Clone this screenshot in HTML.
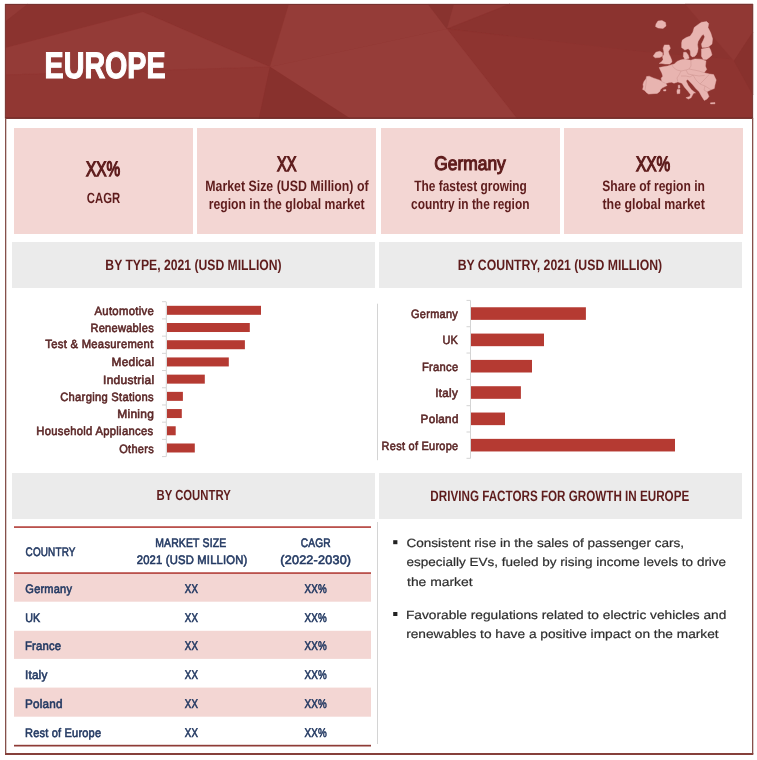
<!DOCTYPE html>
<html><head><meta charset="utf-8"><title>Europe</title>
<style>
html,body{margin:0;padding:0;background:#fff;width:757px;height:760px;overflow:hidden}
svg{display:block}
text{font-family:"Liberation Sans",sans-serif;text-rendering:geometricPrecision}
</style></head><body>
<svg width="757" height="760" viewBox="0 0 757 760">
<rect x="0" y="0" width="757" height="760" fill="#ffffff"/>
<rect x="5" y="4" width="748" height="114.5" fill="#8e3330"/>
<polygon points="5,4 28,4 5,22" fill="#933a36" stroke="#933a36" stroke-width="0.3"/>
<polygon points="28,4 289,4 270,67 143,12 5,48 5,22" fill="#8b332f" stroke="#8b332f" stroke-width="0.3"/>
<polygon points="5,48 143,12 270,67 5,75" fill="#943b37" stroke="#943b37" stroke-width="0.3"/>
<polygon points="5,75 270,67 259,118.5 5,118.5" fill="#913733" stroke="#913733" stroke-width="0.3"/>
<polygon points="289,4 428,4 447,29 270,67" fill="#953c38" stroke="#953c38" stroke-width="0.3"/>
<polygon points="428,4 454,4 447,29" fill="#89332f" stroke="#89332f" stroke-width="0.3"/>
<polygon points="454,4 510,4 447,29" fill="#933a36" stroke="#933a36" stroke-width="0.3"/>
<polygon points="510,4 753,4 753,61 640,51.5 447,29" fill="#8b332f" stroke="#8b332f" stroke-width="0.3"/>
<polygon points="447,29 640,51.5 753,61 753,118.5 517,118.5" fill="#8e3430" stroke="#8e3430" stroke-width="0.3"/>
<polygon points="270,67 447,29 517,118.5 350,118.5" fill="#963d39" stroke="#963d39" stroke-width="0.3"/>
<polygon points="270,67 259,118.5 350,118.5" fill="#88312d" stroke="#88312d" stroke-width="0.3"/>
<polygon points="685,4 753,4 753,32 734,61" fill="#913834" stroke="#913834" stroke-width="0.3"/>
<polygon points="734,61 753,32 753,95" fill="#88312d" stroke="#88312d" stroke-width="0.3"/>
<rect x="5" y="4" width="748" height="1" fill="#763230"/>
<rect x="5" y="4" width="1" height="114" fill="#7d3a36"/>
<rect x="752" y="4" width="1" height="114" fill="#7d3a36"/>
<rect x="5" y="117.5" width="748" height="1.2" fill="#6a2a27"/>
<rect x="5" y="118" width="1.3" height="636" fill="#85504b"/>
<rect x="752" y="118" width="1.3" height="636" fill="#85504b"/>
<rect x="5" y="753" width="748.3" height="2" fill="#86403b"/>
<rect x="14" y="128" width="179" height="106" fill="#f3d6d3"/>
<rect x="197" y="128" width="179" height="106" fill="#f3d6d3"/>
<rect x="381" y="128" width="179" height="106" fill="#f3d6d3"/>
<rect x="564" y="128" width="179" height="106" fill="#f3d6d3"/>
<rect x="12" y="242" width="363" height="46" fill="#ebebeb"/>
<rect x="379" y="242" width="363" height="46" fill="#ebebeb"/>
<rect x="12" y="473" width="363" height="46" fill="#ebebeb"/>
<rect x="379" y="473" width="363" height="46" fill="#ebebeb"/>
<rect x="165.8" y="301.7" width="1" height="155" fill="#d4d4d4"/>
<rect x="162" y="301.2" width="4" height="1" fill="#d4d4d4"/>
<rect x="162" y="318.40999999999997" width="4" height="1" fill="#d4d4d4"/>
<rect x="162" y="335.62" width="4" height="1" fill="#d4d4d4"/>
<rect x="162" y="352.83" width="4" height="1" fill="#d4d4d4"/>
<rect x="162" y="370.03999999999996" width="4" height="1" fill="#d4d4d4"/>
<rect x="162" y="387.25" width="4" height="1" fill="#d4d4d4"/>
<rect x="162" y="404.46" width="4" height="1" fill="#d4d4d4"/>
<rect x="162" y="421.66999999999996" width="4" height="1" fill="#d4d4d4"/>
<rect x="162" y="438.88" width="4" height="1" fill="#d4d4d4"/>
<rect x="162" y="456.09000000000003" width="4" height="1" fill="#d4d4d4"/>
<rect x="167" y="305.81" width="94.0" height="9" fill="#b53a32"/>
<rect x="167" y="323.01" width="82.8" height="9" fill="#b53a32"/>
<rect x="167" y="340.23" width="77.9" height="9" fill="#b53a32"/>
<rect x="167" y="357.44" width="61.8" height="9" fill="#b53a32"/>
<rect x="167" y="374.64" width="37.8" height="9" fill="#b53a32"/>
<rect x="167" y="391.86" width="15.9" height="9" fill="#b53a32"/>
<rect x="167" y="409.06" width="14.8" height="9" fill="#b53a32"/>
<rect x="167" y="426.27" width="8.7" height="9" fill="#b53a32"/>
<rect x="167" y="443.49" width="27.8" height="9" fill="#b53a32"/>
<rect x="470" y="300.4" width="1" height="158" fill="#d4d4d4"/>
<rect x="466.5" y="299.9" width="4" height="1" fill="#d4d4d4"/>
<rect x="466.5" y="326.21999999999997" width="4" height="1" fill="#d4d4d4"/>
<rect x="466.5" y="352.53999999999996" width="4" height="1" fill="#d4d4d4"/>
<rect x="466.5" y="378.86" width="4" height="1" fill="#d4d4d4"/>
<rect x="466.5" y="405.17999999999995" width="4" height="1" fill="#d4d4d4"/>
<rect x="466.5" y="431.5" width="4" height="1" fill="#d4d4d4"/>
<rect x="466.5" y="457.82" width="4" height="1" fill="#d4d4d4"/>
<rect x="471" y="307.26" width="114.9" height="12.6" fill="#b53a32"/>
<rect x="471" y="333.58" width="73.0" height="12.6" fill="#b53a32"/>
<rect x="471" y="359.9" width="61.0" height="12.6" fill="#b53a32"/>
<rect x="471" y="386.22" width="49.9" height="12.6" fill="#b53a32"/>
<rect x="471" y="412.54" width="34.0" height="12.6" fill="#b53a32"/>
<rect x="471" y="438.86" width="204.0" height="12.6" fill="#b53a32"/>
<rect x="377" y="303.7" width="1" height="156.5" fill="#d4d4d4"/>
<rect x="377" y="522" width="1" height="222" fill="#d4d4d4"/>
<rect x="14" y="574" width="357" height="27.700000000000045" fill="#f3d6d3"/>
<rect x="14" y="630.8" width="357" height="28.100000000000023" fill="#f3d6d3"/>
<rect x="14" y="687.6" width="357" height="29.100000000000023" fill="#f3d6d3"/>
<rect x="14" y="526.2" width="357" height="1.8" fill="#ba514c"/>
<rect x="14" y="572.2" width="357" height="1.8" fill="#ba514c"/>
<rect x="14" y="744.8" width="357" height="1.7" fill="#8e3b36"/>
<rect x="393.2" y="540.2" width="4.2" height="4" fill="#222"/>
<rect x="393.2" y="612" width="4.2" height="4" fill="#222"/>
<polygon points="656.0,24.0 658.0,21.0 662.0,20.5 665.5,22.5 666.0,26.0 663.0,28.4 658.0,28.0 655.5,26.5" fill="#e8b4b0" stroke="#e8b4b0" stroke-width="0.4" stroke-linejoin="round"/>
<polygon points="681.6,47.6 681.6,42.7 682.3,40.1 686.2,37.5 690.2,36.1 692.8,32.2 694.2,27.5 697.5,24.9 701.4,22.3 706.7,21.6 708.7,23.6 708.0,27.5 710.7,32.8 712.6,38.8 712.0,44.1 708.7,46.7 705.4,47.4 702.1,47.4 701.4,44.1 703.4,40.1 704.7,36.8 703.4,34.2 701.4,36.1 698.1,41.4 697.5,44.7 698.1,48.7 697.5,52.0 696.1,55.0 694.5,56.5 692.2,56.9 690.6,55.2 690.2,50.7 688.2,48.7 684.9,50.0" fill="#e8b4b0" stroke="#e8b4b0" stroke-width="0.4" stroke-linejoin="round"/>
<polygon points="701.4,49.0 705.4,48.3 709.3,47.6 710.7,50.3 712.0,54.9 710.0,56.9 706.7,59.5 703.4,59.5 701.4,56.2 701.4,52.3" fill="#e8b4b0" stroke="#e8b4b0" stroke-width="0.4" stroke-linejoin="round"/>
<polygon points="683.6,52.3 686.2,52.3 688.2,54.9 689.2,58.2 684.9,59.6 683.3,56.2" fill="#e8b4b0" stroke="#e8b4b0" stroke-width="0.4" stroke-linejoin="round"/>
<polygon points="664.4,44.9 669.1,44.9 670.4,48.2 668.4,51.5 669.1,54.2 670.4,56.8 671.7,60.1 672.0,62.1 669.7,64.1 665.1,64.1 661.8,63.4 659.2,63.4 661.8,61.4 663.1,59.4 662.5,56.8 663.8,54.8 663.8,51.5 663.1,48.2" fill="#e8b4b0" stroke="#e8b4b0" stroke-width="0.4" stroke-linejoin="round"/>
<polygon points="653.2,56.1 655.9,52.2 659.8,51.2 662.5,52.8 662.5,56.1 659.8,57.5 655.2,57.8" fill="#e8b4b0" stroke="#e8b4b0" stroke-width="0.4" stroke-linejoin="round"/>
<polygon points="659.2,67.6 663.1,66.7 667.7,66.0 671.7,64.7 674.3,64.1 677.0,61.4 680.3,60.1 682.9,59.4 684.9,59.2 690.9,60.2 694.8,58.9 701.4,59.2 706.0,60.9 705.4,66.1 706.7,69.4 704.1,72.7 709.6,74.0 713.6,74.6 716.2,79.9 714.9,85.2 714.3,88.5 711.0,89.8 707.0,91.8 709.0,96.4 707.0,99.1 704.3,100.4 701.7,96.4 699.1,91.8 695.8,88.5 692.3,84.3 687.8,79.6 686.0,80.8 688.3,85.6 691.5,89.7 695.6,92.9 693.8,93.1 692.5,95.1 691.1,97.7 688.5,99.1 685.9,97.7 689.8,96.4 690.5,94.4 687.8,91.1 684.5,87.2 681.9,83.2 677.9,81.9 674.0,83.2 671.7,82.2 669.1,82.5 665.8,83.5 667.1,85.5 662.5,87.8 660.5,89.4 659.8,91.4 657.2,93.4 653.2,93.7 648.6,94.1 646.6,92.7 644.6,90.4 642.6,89.4 643.3,86.8 643.0,84.2 644.0,81.5 645.9,78.9 646.6,76.6 649.2,76.2 653.2,77.9 659.8,80.2 661.8,81.5 661.1,78.2 662.8,76.2 661.8,72.9 659.8,69.0" fill="#e8b4b0" stroke="#e8b4b0" stroke-width="0.4" stroke-linejoin="round"/>
<polygon points="678.2,85.2 679.8,85.2 679.9,88.0 678.3,88.2" fill="#e8b4b0" stroke="#e8b4b0" stroke-width="0.4" stroke-linejoin="round"/>
<polygon points="677.5,89.2 680.0,89.4 679.8,93.5 677.2,93.8 676.9,91.0" fill="#e8b4b0" stroke="#e8b4b0" stroke-width="0.4" stroke-linejoin="round"/>
<polygon points="663.5,89.8 666.0,89.6 665.8,91.0 663.6,91.0" fill="#e8b4b0" stroke="#e8b4b0" stroke-width="0.4" stroke-linejoin="round"/>
<polygon points="710.5,102.8 715.0,102.6 715.0,103.8 710.6,103.9" fill="#e8b4b0" stroke="#e8b4b0" stroke-width="0.4" stroke-linejoin="round"/>
<polyline points="671.7,64.7 674.0,68.0 677.0,70.0 681.0,71.0" fill="none" stroke="#c98f8b" stroke-width="0.45"/>
<polyline points="690.9,60.2 691.0,66.0 689.0,69.0 686.0,70.0 681.0,71.0 679.0,75.0 677.0,78.0 677.9,81.9" fill="none" stroke="#c98f8b" stroke-width="0.45"/>
<polyline points="689.0,69.0 694.0,70.0 699.0,71.0 704.1,72.7" fill="none" stroke="#c98f8b" stroke-width="0.45"/>
<polyline points="686.0,70.0 688.0,74.0 693.0,75.0 699.0,76.0 704.7,75.4" fill="none" stroke="#c98f8b" stroke-width="0.45"/>
<polyline points="693.0,75.0 696.0,80.0 700.0,84.0 705.0,86.0 711.0,89.8" fill="none" stroke="#c98f8b" stroke-width="0.45"/>
<polyline points="681.0,76.0 686.0,76.0 690.0,77.0 693.0,75.0" fill="none" stroke="#c98f8b" stroke-width="0.45"/>
<polyline points="700.0,84.0 704.0,80.0 709.6,74.0" fill="none" stroke="#c98f8b" stroke-width="0.45"/>
<polyline points="705.0,86.0 704.0,90.0 707.0,91.8" fill="none" stroke="#c98f8b" stroke-width="0.45"/>
<polyline points="661.8,81.5 665.8,83.5" fill="none" stroke="#c98f8b" stroke-width="0.45"/>
<polyline points="646.6,76.6 646.0,84.0 645.0,90.0" fill="none" stroke="#c98f8b" stroke-width="0.45"/>
<g style="will-change:transform">
<text transform="translate(44.57,77.90) scale(0.7745,1)" font-size="37" font-weight="bold" stroke="#ffffff" stroke-width="1.2" fill="#ffffff">EUROPE</text>
<text transform="translate(86.04,176.10) scale(0.7335,1)" font-size="21" stroke="#5e1c1c" stroke-width="1.3" fill="#5e1c1c">XX%</text>
<text transform="translate(86.85,203.00) scale(0.7658,1)" font-size="14.8" font-weight="bold" fill="#5e1c1c">CAGR</text>
<text transform="translate(277.12,170.80) scale(0.6954,1)" font-size="21" stroke="#5e1c1c" stroke-width="1.3" fill="#5e1c1c">XX</text>
<text transform="translate(205.23,191.10) scale(0.8235,1)" font-size="15" font-weight="bold" fill="#5e1c1c">Market Size (USD Million) of</text>
<text transform="translate(208.64,209.00) scale(0.8139,1)" font-size="15" font-weight="bold" fill="#5e1c1c">region in the global market</text>
<text transform="translate(434.17,170.40) scale(0.8933,1)" font-size="19.5" stroke="#5e1c1c" stroke-width="1.1" fill="#5e1c1c">Germany</text>
<text transform="translate(414.30,191.00) scale(0.7938,1)" font-size="15" font-weight="bold" fill="#5e1c1c">The fastest growing</text>
<text transform="translate(411.03,209.00) scale(0.7940,1)" font-size="15" font-weight="bold" fill="#5e1c1c">country in the region</text>
<text transform="translate(636.04,171.00) scale(0.7335,1)" font-size="21" stroke="#5e1c1c" stroke-width="1.3" fill="#5e1c1c">XX%</text>
<text transform="translate(602.31,191.00) scale(0.8044,1)" font-size="15" font-weight="bold" fill="#5e1c1c">Share of region in</text>
<text transform="translate(602.50,209.00) scale(0.8242,1)" font-size="15" font-weight="bold" fill="#5e1c1c">the global market</text>
<text transform="translate(105.34,270.20) scale(0.8114,1)" font-size="15" font-weight="bold" fill="#5e1c1c">BY TYPE, 2021 (USD MILLION)</text>
<text transform="translate(457.63,270.40) scale(0.8182,1)" font-size="15" font-weight="bold" fill="#5e1c1c">BY COUNTRY, 2021 (USD MILLION)</text>
<text transform="translate(156.49,500.30) scale(0.7754,1)" font-size="14.6" font-weight="bold" fill="#5e1c1c">BY COUNTRY</text>
<text transform="translate(430.37,500.60) scale(0.7771,1)" font-size="15" font-weight="bold" fill="#5e1c1c">DRIVING FACTORS FOR GROWTH IN EUROPE</text>
<text transform="translate(94.48,314.70) scale(0.9452,1)" font-size="12" stroke="#5c2828" stroke-width="0.6" letter-spacing="0.3" fill="#5c2828">Automotive</text>
<text transform="translate(90.41,331.60) scale(0.9202,1)" font-size="12" stroke="#5c2828" stroke-width="0.6" letter-spacing="0.3" fill="#5c2828">Renewables</text>
<text transform="translate(45.31,348.40) scale(0.9377,1)" font-size="12" stroke="#5c2828" stroke-width="0.6" letter-spacing="0.3" fill="#5c2828">Test &amp; Measurement</text>
<text transform="translate(111.47,366.30) scale(0.9876,1)" font-size="12" stroke="#5c2828" stroke-width="0.6" letter-spacing="0.3" fill="#5c2828">Medical</text>
<text transform="translate(103.07,383.60) scale(0.9928,1)" font-size="12" stroke="#5c2828" stroke-width="0.6" letter-spacing="0.3" fill="#5c2828">Industrial</text>
<text transform="translate(60.26,400.60) scale(0.9324,1)" font-size="12" stroke="#5c2828" stroke-width="0.6" letter-spacing="0.3" fill="#5c2828">Charging Stations</text>
<text transform="translate(117.16,417.90) scale(0.9989,1)" font-size="12" stroke="#5c2828" stroke-width="0.6" letter-spacing="0.3" fill="#5c2828">Mining</text>
<text transform="translate(36.30,435.40) scale(0.9381,1)" font-size="12" stroke="#5c2828" stroke-width="0.6" letter-spacing="0.3" fill="#5c2828">Household Appliances</text>
<text transform="translate(119.26,452.60) scale(0.9173,1)" font-size="12" stroke="#5c2828" stroke-width="0.6" letter-spacing="0.3" fill="#5c2828">Others</text>
<text transform="translate(411.06,317.90) scale(0.9124,1)" font-size="12" stroke="#5c2828" stroke-width="0.6" letter-spacing="0.3" fill="#5c2828">Germany</text>
<text transform="translate(442.39,343.80) scale(0.9107,1)" font-size="12" stroke="#5c2828" stroke-width="0.6" letter-spacing="0.3" fill="#5c2828">UK</text>
<text transform="translate(422.01,370.50) scale(0.9310,1)" font-size="12" stroke="#5c2828" stroke-width="0.6" letter-spacing="0.3" fill="#5c2828">France</text>
<text transform="translate(435.28,397.30) scale(0.9663,1)" font-size="12" stroke="#5c2828" stroke-width="0.6" letter-spacing="0.3" fill="#5c2828">Italy</text>
<text transform="translate(420.58,423.20) scale(0.9722,1)" font-size="12" stroke="#5c2828" stroke-width="0.6" letter-spacing="0.3" fill="#5c2828">Poland</text>
<text transform="translate(381.62,449.90) scale(0.9119,1)" font-size="12" stroke="#5c2828" stroke-width="0.6" letter-spacing="0.3" fill="#5c2828">Rest of Europe</text>
<text transform="translate(25.58,556.00) scale(0.8073,1)" font-size="12.3" stroke="#243a63" stroke-width="0.6" letter-spacing="0.2" fill="#243a63">COUNTRY</text>
<text transform="translate(155.14,546.90) scale(0.8492,1)" font-size="12.3" stroke="#243a63" stroke-width="0.6" letter-spacing="0.2" fill="#243a63">MARKET SIZE</text>
<text transform="translate(136.75,564.10) scale(0.9139,1)" font-size="12.3" stroke="#243a63" stroke-width="0.6" letter-spacing="0.2" fill="#243a63">2021 (USD MILLION)</text>
<text transform="translate(300.67,546.90) scale(0.8283,1)" font-size="12.3" stroke="#243a63" stroke-width="0.6" letter-spacing="0.2" fill="#243a63">CAGR</text>
<text transform="translate(280.31,564.10) scale(1.0091,1)" font-size="12.5" stroke="#243a63" stroke-width="0.6" letter-spacing="0.2" fill="#243a63">(2022-2030)</text>
<text transform="translate(25.35,592.90) scale(0.8995,1)" font-size="12.3" stroke="#243a63" stroke-width="0.6" letter-spacing="0.2" fill="#243a63">Germany</text>
<text transform="translate(184.78,592.90) scale(0.7757,1)" font-size="12.5" stroke="#243a63" stroke-width="0.6" letter-spacing="0.2" fill="#243a63">XX</text>
<text transform="translate(304.48,592.90) scale(0.7866,1)" font-size="12.5" stroke="#243a63" stroke-width="0.6" letter-spacing="0.2" fill="#243a63">XX%</text>
<text transform="translate(25.19,621.90) scale(0.8713,1)" font-size="12.3" stroke="#243a63" stroke-width="0.6" letter-spacing="0.2" fill="#243a63">UK</text>
<text transform="translate(184.78,621.90) scale(0.7757,1)" font-size="12.5" stroke="#243a63" stroke-width="0.6" letter-spacing="0.2" fill="#243a63">XX</text>
<text transform="translate(304.48,621.90) scale(0.7866,1)" font-size="12.5" stroke="#243a63" stroke-width="0.6" letter-spacing="0.2" fill="#243a63">XX%</text>
<text transform="translate(24.99,650.20) scale(0.9213,1)" font-size="12.3" stroke="#243a63" stroke-width="0.6" letter-spacing="0.2" fill="#243a63">France</text>
<text transform="translate(184.78,650.20) scale(0.7757,1)" font-size="12.5" stroke="#243a63" stroke-width="0.6" letter-spacing="0.2" fill="#243a63">XX</text>
<text transform="translate(304.48,650.20) scale(0.7866,1)" font-size="12.5" stroke="#243a63" stroke-width="0.6" letter-spacing="0.2" fill="#243a63">XX%</text>
<text transform="translate(24.97,678.60) scale(0.9566,1)" font-size="12.3" stroke="#243a63" stroke-width="0.6" letter-spacing="0.2" fill="#243a63">Italy</text>
<text transform="translate(184.78,678.60) scale(0.7757,1)" font-size="12.5" stroke="#243a63" stroke-width="0.6" letter-spacing="0.2" fill="#243a63">XX</text>
<text transform="translate(304.48,678.60) scale(0.7866,1)" font-size="12.5" stroke="#243a63" stroke-width="0.6" letter-spacing="0.2" fill="#243a63">XX%</text>
<text transform="translate(24.97,707.60) scale(0.9543,1)" font-size="12.3" stroke="#243a63" stroke-width="0.6" letter-spacing="0.2" fill="#243a63">Poland</text>
<text transform="translate(184.78,707.60) scale(0.7757,1)" font-size="12.5" stroke="#243a63" stroke-width="0.6" letter-spacing="0.2" fill="#243a63">XX</text>
<text transform="translate(304.48,707.60) scale(0.7866,1)" font-size="12.5" stroke="#243a63" stroke-width="0.6" letter-spacing="0.2" fill="#243a63">XX%</text>
<text transform="translate(25.01,736.50) scale(0.8987,1)" font-size="12.3" stroke="#243a63" stroke-width="0.6" letter-spacing="0.2" fill="#243a63">Rest of Europe</text>
<text transform="translate(184.78,736.50) scale(0.7757,1)" font-size="12.5" stroke="#243a63" stroke-width="0.6" letter-spacing="0.2" fill="#243a63">XX</text>
<text transform="translate(304.48,736.50) scale(0.7866,1)" font-size="12.5" stroke="#243a63" stroke-width="0.6" letter-spacing="0.2" fill="#243a63">XX%</text>
<text transform="translate(406.38,547.00) scale(1.1315,1)" font-size="12" stroke="#2e2e2e" stroke-width="0.2" fill="#2e2e2e">Consistent rise in the sales of passenger cars,</text>
<text transform="translate(406.59,565.70) scale(1.1246,1)" font-size="12" stroke="#2e2e2e" stroke-width="0.2" fill="#2e2e2e">especially EVs, fueled by rising income levels to drive</text>
<text transform="translate(407.02,585.50) scale(1.1576,1)" font-size="12" stroke="#2e2e2e" stroke-width="0.2" fill="#2e2e2e">the market</text>
<text transform="translate(405.94,618.50) scale(1.1437,1)" font-size="12" stroke="#2e2e2e" stroke-width="0.2" fill="#2e2e2e">Favorable regulations related to electric vehicles and</text>
<text transform="translate(406.16,637.50) scale(1.1426,1)" font-size="12" stroke="#2e2e2e" stroke-width="0.2" fill="#2e2e2e">renewables to have a positive impact on the market</text>
</g>
</svg>
</body></html>
